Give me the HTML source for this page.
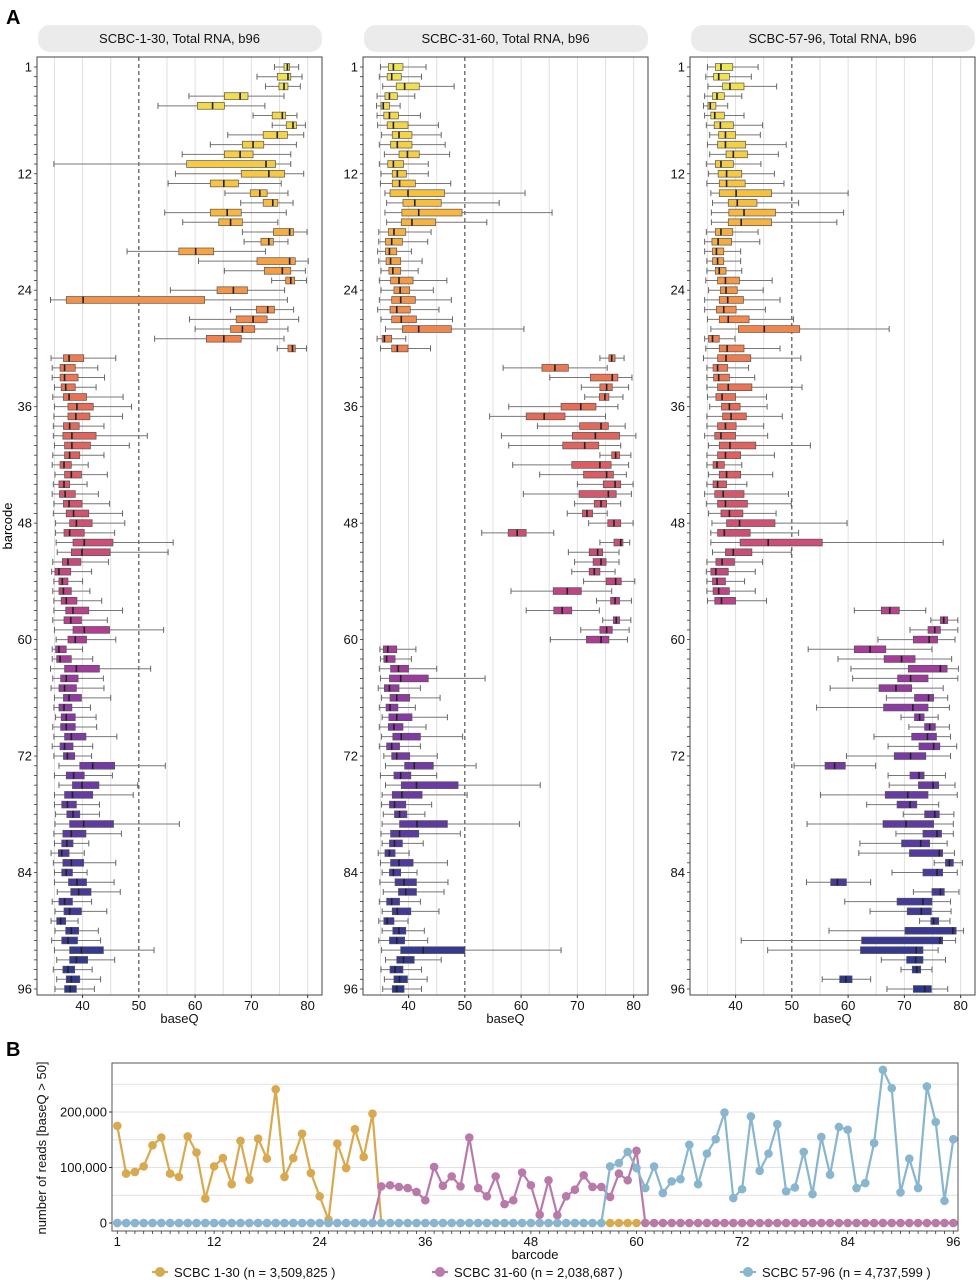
<!DOCTYPE html>
<html><head><meta charset="utf-8"><style>
html,body{margin:0;padding:0;background:#fff;}
svg{display:block;font-family:"Liberation Sans",Arial,sans-serif;}
</style></head><body>
<svg id="chart" width="976" height="1280" viewBox="0 0 976 1280" xmlns="http://www.w3.org/2000/svg">
<text x="6" y="24" font-size="20" font-weight="bold">A</text>
<text x="6" y="1056" font-size="20" font-weight="bold">B</text>
<text transform="translate(12,526) rotate(-90)" text-anchor="middle" font-size="13">barcode</text>
<g id="facets"></g>
<g id="linechart"></g>
</svg>
<script>
// ---------- Panel A data ----------
const facetTitles = ["SCBC-1-30, Total RNA, b96","SCBC-31-60, Total RNA, b96","SCBC-57-96, Total RNA, b96"];
const yTickLabels = [1,12,24,36,48,60,72,84,96];
const xTickLabels = [40,50,60,70,80];
const p1Lo=[74.1,71.0,72.5,58.9,53.4,70.3,73.7,65.8,62.7,57.7,34.9,56.5,55.2,65.3,68.1,54.6,57.8,68.4,68.7,47.9,60.6,65.2,73.6,55.6,34.3,66.3,59.0,60.0,52.8,74.6,34.4,34.6,34.6,35.0,34.7,35.0,34.9,34.8,34.8,35.0,34.7,34.6,35.1,34.8,34.6,34.9,34.8,35.2,35.2,35.3,35.5,34.7,34.5,34.9,34.7,34.9,34.9,34.7,35.0,35.3,34.6,34.6,34.3,34.7,34.4,35.0,34.9,35.2,34.7,34.9,34.6,34.9,35.8,35.0,35.8,35.0,35.0,35.2,35.1,34.9,35.0,34.4,34.8,35.0,35.0,35.5,34.6,35.1,34.4,35.1,34.5,35.0,35.4,34.8,35.4,35.1];
const p1Q1=[75.8,74.6,74.9,65.2,60.4,73.7,76.2,72.1,68.4,65.2,58.5,68.2,62.7,69.8,72.1,62.7,64.2,73.9,71.7,57.1,71.0,72.3,76.1,63.9,37.1,70.9,67.3,66.3,62.0,76.5,36.6,36.0,36.0,36.2,36.6,37.4,37.4,36.6,36.5,36.8,36.8,36.0,36.8,35.8,35.9,36.6,37.1,37.7,36.7,38.3,38.0,36.4,35.1,35.8,35.8,36.2,37.0,36.7,38.3,37.4,35.2,35.4,36.8,36.1,35.8,36.6,35.8,36.2,36.1,36.8,36.0,36.6,39.5,37.1,38.2,36.8,36.3,37.2,37.7,36.5,36.3,35.7,36.5,36.3,37.5,37.9,35.8,36.7,35.4,37.0,36.3,37.7,37.7,36.5,37.1,36.8];
const p1Med=[76.4,76.5,75.8,68.0,63.1,75.5,77.4,74.6,70.3,68.0,72.6,73.1,65.1,71.5,73.8,65.7,66.3,76.8,73.1,60.1,76.8,75.5,77.0,66.8,40.1,72.9,70.3,68.4,65.1,77.3,37.6,36.8,36.8,37.0,37.6,39.0,38.8,37.7,38.1,38.1,37.7,36.7,38.0,36.7,36.9,37.6,38.4,38.9,37.7,40.3,39.9,37.4,35.8,36.4,36.6,37.1,38.3,37.9,40.3,38.7,35.8,36.0,38.9,37.1,36.8,37.6,36.7,37.1,37.1,38.0,36.8,37.3,41.8,38.4,39.9,38.2,37.3,38.3,40.2,38.0,37.2,36.3,38.0,37.1,39.0,39.3,36.8,37.7,36.1,38.0,37.4,39.8,38.9,37.4,38.0,37.8];
const p1Q3=[76.8,77.0,76.5,69.4,65.2,76.1,78.0,76.4,72.2,70.3,74.3,75.9,67.7,72.8,74.7,68.2,68.4,77.5,73.9,63.3,77.8,77.0,77.7,69.3,61.7,74.1,72.8,70.6,68.2,77.8,40.2,38.7,39.2,38.7,40.7,41.9,41.3,39.4,42.4,41.4,39.5,38.0,39.8,37.7,38.7,39.9,41.1,41.7,40.3,45.4,44.9,39.7,37.9,37.4,38.0,39.0,41.1,39.8,44.8,40.7,37.1,38.0,43.0,39.2,38.9,39.8,38.1,38.7,38.7,40.6,38.3,38.6,45.7,40.3,42.9,41.8,38.9,39.5,45.5,40.6,38.3,37.6,40.2,38.2,40.7,41.5,38.2,39.8,37.0,39.3,39.1,43.7,40.9,38.6,39.5,38.9];
const p1Hi=[78.4,79.0,78.7,75.8,72.4,78.1,79.6,79.3,78.0,77.0,77.0,79.3,75.3,76.5,77.4,76.2,74.7,79.9,76.5,72.5,80.1,79.6,79.8,75.9,76.4,77.5,78.4,76.5,75.8,79.8,45.9,42.7,43.9,42.4,47.2,48.7,47.1,43.8,51.5,48.3,43.8,41.0,44.4,40.8,42.8,44.8,47.1,47.5,45.7,56.1,55.2,44.6,41.6,40.0,41.3,43.4,47.1,44.4,54.4,45.9,40.0,41.8,52.1,43.7,43.8,45.0,41.4,42.4,42.5,46.1,41.8,41.6,54.7,45.3,49.8,49.0,43.0,43.0,57.2,46.9,41.1,40.3,45.9,40.8,45.6,46.7,41.6,44.3,39.2,42.8,43.2,52.7,45.7,41.7,43.2,42.1];

const p2Lo=[35.0,34.8,35.4,34.4,34.3,34.4,34.5,35.2,34.8,35.7,34.8,35.1,35.0,35.8,36.1,35.8,36.1,34.7,34.7,34.5,34.7,35.1,34.8,35.1,34.8,34.5,35.1,35.9,34.4,35.0,74.0,56.8,65.1,70.7,71.3,57.8,54.4,62.9,56.5,57.8,74.0,58.5,63.3,70.0,60.4,69.5,68.2,72.0,53.0,74.0,68.4,69.5,69.0,71.1,58.2,73.4,60.9,74.5,70.6,65.2,34.9,35.0,34.8,35.0,34.6,35.2,34.8,35.3,34.8,35.2,34.8,35.6,35.9,35.0,35.9,35.3,35.2,35.5,35.3,35.1,35.3,34.6,35.0,35.3,34.9,35.5,34.8,35.3,34.7,35.3,34.7,35.2,35.9,35.1,35.7,35.4];
const p2Q1=[36.4,36.2,37.8,35.8,35.1,35.6,36.2,37.1,36.8,38.3,36.3,37.1,37.1,36.7,39.0,38.8,38.7,36.4,35.9,35.9,36.0,36.5,36.8,37.4,37.0,36.7,37.0,38.9,35.3,37.0,75.6,63.7,72.3,74.0,73.9,67.1,60.9,70.4,69.1,67.4,76.1,69.0,71.1,74.6,70.3,73.0,70.9,75.4,57.7,76.5,72.1,72.8,72.1,75.1,65.7,75.9,65.8,76.4,74.0,71.6,35.5,35.6,36.8,36.6,35.7,36.7,36.0,36.5,36.4,37.2,36.1,37.0,39.3,37.4,38.7,37.1,36.6,37.5,38.4,36.8,36.6,35.8,36.8,36.6,37.6,38.2,36.1,37.1,35.6,37.2,36.6,38.6,37.9,36.7,37.4,37.1];
const p2Med=[37.3,37.0,39.3,36.6,35.5,36.6,37.3,38.3,38.0,39.8,37.3,38.0,38.4,39.9,41.1,41.8,40.6,37.4,37.0,36.6,36.8,37.2,38.3,38.5,38.6,37.9,38.7,41.8,35.7,38.0,76.1,66.0,76.2,75.2,74.9,70.6,64.1,74.2,73.2,71.3,76.8,74.0,75.2,76.7,75.5,74.2,71.7,76.5,59.3,77.7,73.6,74.2,73.0,76.8,68.2,76.7,67.3,76.9,75.2,74.2,36.3,36.1,38.2,38.6,36.6,37.9,36.7,37.9,37.4,38.7,37.0,37.9,41.0,38.6,41.4,38.8,37.5,38.4,41.5,38.4,37.5,36.6,38.3,37.3,39.2,39.5,37.0,38.0,36.2,38.3,37.9,42.6,39.1,37.6,38.4,37.9];
const p2Q3=[39.0,38.7,41.9,38.0,36.6,38.2,39.9,40.6,40.6,41.9,39.1,39.6,41.2,46.4,45.8,49.5,44.8,39.5,38.9,37.9,38.6,38.6,40.8,40.2,41.2,40.3,41.4,47.6,37.0,39.9,76.7,68.4,77.2,76.2,75.6,73.3,67.8,75.5,77.5,73.8,77.5,76.0,76.4,77.7,76.9,75.2,72.7,77.7,60.9,78.1,74.5,75.1,74.0,77.8,70.7,77.5,69.0,77.5,76.2,75.6,37.9,37.6,40.0,43.5,38.3,40.2,38.1,40.6,39.0,42.1,38.4,40.2,44.4,40.4,48.8,42.4,39.5,39.7,46.9,41.8,38.9,37.6,40.8,38.6,41.4,41.4,38.4,40.4,37.4,39.5,39.3,50.0,41.0,39.0,39.8,39.2];
const p2Hi=[43.1,42.3,48.1,41.1,38.5,42.1,45.3,45.8,46.5,47.3,43.5,43.5,47.5,60.7,56.1,65.5,53.9,44.0,43.4,40.5,42.4,41.7,46.8,44.4,47.6,45.4,47.8,60.5,39.5,43.9,78.3,75.3,79.7,79.1,78.1,77.2,75.0,78.5,80.4,77.7,79.5,79.1,78.7,79.9,79.6,77.7,75.3,79.9,65.8,79.3,77.4,77.4,76.7,80.2,76.1,79.6,73.9,79.5,79.2,78.9,41.3,40.5,45.0,53.6,42.1,45.6,41.2,46.9,43.1,49.6,42.1,45.1,52.0,45.0,63.4,50.4,44.1,42.9,59.7,49.2,42.6,40.1,46.9,41.5,47.0,46.3,42.1,45.4,39.9,42.8,43.4,67.1,45.8,42.3,43.3,42.3];

const p3Lo=[35.0,34.7,35.1,34.5,34.3,34.5,34.8,35.4,35.0,35.4,34.8,35.2,34.9,35.6,35.9,35.7,35.7,34.8,34.5,34.5,34.9,34.9,34.7,35.2,34.5,34.5,35.0,35.6,34.5,34.7,34.3,34.9,34.9,34.9,35.0,35.4,34.9,34.9,34.5,35.2,34.9,34.9,35.2,34.9,34.5,34.8,35.2,35.8,35.6,35.6,35.9,34.9,34.8,34.9,34.9,35.0,61.1,74.7,71.0,65.3,52.9,58.2,60.5,60.8,56.8,66.8,54.4,69.4,70.8,64.6,67.1,59.7,50.4,67.1,67.3,55.1,63.3,69.8,52.7,68.5,62.1,61.9,75.3,67.8,52.6,71.6,59.4,63.9,72.7,56.6,41.0,45.7,65.9,69.4,55.4,66.9];
const p3Q1=[36.4,36.1,37.7,35.9,35.1,35.6,36.2,37.0,36.8,38.3,36.4,36.9,37.1,37.1,38.7,38.8,38.7,36.4,35.8,35.9,35.9,36.4,36.8,37.3,37.1,36.6,37.1,40.5,35.2,37.1,36.8,36.0,36.1,36.8,36.5,37.5,37.7,36.8,36.3,37.1,36.8,36.0,37.1,36.0,36.3,36.8,37.4,38.4,36.8,40.8,38.2,36.5,35.6,35.9,36.0,36.3,65.9,76.4,74.2,71.6,61.1,66.4,70.7,68.8,65.5,71.8,66.3,71.8,73.6,71.3,72.6,68.2,55.9,71.0,72.5,66.6,68.7,73.6,66.2,73.3,69.5,70.9,77.3,73.3,56.9,74.9,68.7,70.5,74.7,70.1,62.4,62.2,70.4,71.4,58.5,71.6];
const p3Med=[37.4,37.0,39.0,36.7,35.5,36.3,37.3,38.2,38.2,39.6,37.4,38.4,38.4,40.1,40.3,41.5,41.0,37.4,36.9,36.6,36.8,37.1,38.2,38.3,38.6,37.9,38.7,45.1,35.9,38.5,38.3,36.8,37.0,38.7,37.6,38.9,39.2,38.2,37.4,39.0,38.2,36.7,38.4,36.8,37.8,38.2,38.9,40.7,38.0,45.8,39.6,37.6,36.5,36.7,37.0,37.5,67.4,77.0,75.4,74.4,63.9,69.5,76.4,71.1,68.5,74.3,71.5,72.7,74.5,74.1,75.2,71.1,57.6,72.6,75.1,70.6,71.0,75.4,70.3,75.8,72.9,76.2,78.0,75.8,58.1,76.4,73.3,73.0,75.2,78.6,76.3,72.1,72.0,72.2,59.6,73.6];
const p3Q3=[39.5,38.9,41.5,38.0,36.5,38.0,39.6,40.0,41.8,42.1,39.6,41.1,41.7,46.4,43.8,47.1,46.4,39.5,39.3,37.9,37.9,38.3,40.7,40.3,41.4,40.1,42.4,51.4,37.1,41.5,42.7,38.6,38.9,42.9,40.0,40.8,41.9,40.1,40.0,43.6,40.9,38.0,40.9,38.4,41.5,42.1,41.3,47.0,42.6,55.4,42.9,39.8,38.7,38.2,38.9,40.0,69.1,77.7,76.4,75.9,66.7,71.9,77.6,74.2,71.3,75.2,74.2,73.5,75.5,75.7,76.3,73.8,59.5,73.5,76.1,74.2,72.2,76.2,75.2,76.6,74.5,76.8,78.7,76.8,59.7,77.1,74.9,74.8,76.1,79.2,76.8,73.3,73.3,72.9,60.7,74.8];
const p3Hi=[44.0,42.8,47.3,41.1,38.6,41.5,44.8,44.4,49.0,47.6,44.5,46.9,48.6,60.0,51.2,59.2,58.0,44.0,44.3,40.9,40.9,41.1,46.5,44.9,47.9,45.3,50.3,67.3,39.9,47.9,51.6,42.3,43.4,51.8,45.5,45.6,48.3,45.0,45.7,53.3,46.9,41.1,46.6,42.0,49.4,49.9,47.2,59.8,51.2,76.9,49.9,44.8,43.5,41.6,43.5,45.5,73.8,79.5,79.5,79.0,74.9,78.4,79.6,79.5,76.9,77.7,78.0,76.0,78.0,78.2,79.3,78.2,64.9,77.3,79.0,79.4,76.1,78.8,78.7,78.7,77.6,78.9,80.3,79.4,64.0,79.7,78.2,78.3,78.1,80.5,79.1,76.0,77.3,74.9,64.0,77.7];

// ---------- Panel B data (thousands of reads) ----------
const seriesNames = ["SCBC 1-30 (n = 3,509,825 )","SCBC 31-60 (n = 2,038,687 )","SCBC 57-96 (n = 4,737,599 )"];
const readsA = [175,89,92,102,140,154,89,83,156,127,44,102,117,70,148,78,152,116,241,83,117,161,90,48,6,143,99,169,119,197];
const readsB = [66,68,65,63,56,41,101,67,84,66,154,63,48,84,34,41,91,68,15,77,14,48,60,86,65,65,47,89,77,130];
const readsC = [102,108,128,99,63,102,54,75,79,141,70,125,151,199,45,61,192,94,125,178,57,64,128,52,155,87,173,168,63,72,144,276,243,55,116,63,246,182,40,151];
const yTicksB = [0,100000,200000];
const xTicksB = [1,12,24,36,48,60,72,84,96];

const NS="http://www.w3.org/2000/svg";
function mk(tag, attrs, parent){const e=document.createElementNS(NS,tag);for(const k in attrs)e.setAttribute(k,attrs[k]);parent.appendChild(e);return e;}

// colour ramp (style, not data)
const ramp=[[0,[239,228,82]],[0.12,[247,200,64]],[0.2,[246,165,66]],[0.3,[240,128,78]],[0.42,[222,96,96]],[0.53,[200,76,122]],[0.61,[178,62,146]],[0.69,[142,58,164]],[0.79,[104,58,164]],[0.89,[72,58,156]],[1,[42,56,140]]];
function colorAt(t){for(let i=1;i<ramp.length;i++){if(t<=ramp[i][0]){const a=ramp[i-1],b=ramp[i];const f=(t-a[0])/(b[0]-a[0]);const c=a[1].map((v,j)=>Math.round(v+(b[1][j]-v)*f));return `rgb(${c[0]},${c[1]},${c[2]})`;}}return 'rgb(42,56,140)';}

const panels=[
 {x0:37,x1:322,lo:p1Lo,q1:p1Q1,med:p1Med,q3:p1Q3,hi:p1Hi},
 {x0:363,x1:648,lo:p2Lo,q1:p2Q1,med:p2Med,q3:p2Q3,hi:p2Hi},
 {x0:690,x1:975,lo:p3Lo,q1:p3Q1,med:p3Med,q3:p3Q3,hi:p3Hi}];
const yTop=57,yBot=995,dMin=31.9,dMax=82.55;
const rowY=i=>67+(i-1)*9.705;
const facets=document.getElementById('facets');
panels.forEach((p,pi)=>{
  const sx=v=>p.x0+(v-dMin)/(dMax-dMin)*(p.x1-p.x0);
  const g=mk('g',{},facets);
  
  
  const strip=mk('rect',{x:p.x0+1,y:25,width:p.x1-p.x0-1,height:27,rx:12,fill:'#ebebeb'},g);
  
  
  const st=mk('text',{x:(p.x0+p.x1)/2,y:43,'text-anchor':'middle','font-size':13,fill:'#111'},g);
  st.textContent=facetTitles[pi];
  
  
  for(let v=35;v<=80;v+=5){ if(v===50)continue;
    const gl=mk('line',{x1:sx(v),x2:sx(v),y1:yTop,y2:yBot,stroke:'#e0e0e0','stroke-width':1},g);
    
    
  }
  const dl=mk('line',{x1:sx(50),x2:sx(50),y1:yTop,y2:yBot,stroke:'#333','stroke-width':1,'stroke-dasharray':'4,3'},g);
  
  
  for(let i=1;i<=96;i++){
    const y=rowY(i),c=colorAt((i-1)/95),k=i-1;
    const bx=mk('g',{},g);
    
    
    mk('line',{x1:sx(p.lo[k]),x2:sx(p.hi[k]),y1:y,y2:y,stroke:'#777','stroke-width':1},bx);
    mk('line',{x1:sx(p.lo[k]),x2:sx(p.lo[k]),y1:y-3,y2:y+3,stroke:'#666','stroke-width':1},bx);
    mk('line',{x1:sx(p.hi[k]),x2:sx(p.hi[k]),y1:y-3,y2:y+3,stroke:'#666','stroke-width':1},bx);
    mk('rect',{x:sx(p.q1[k]),y:y-3.4,width:Math.max(1,sx(p.q3[k])-sx(p.q1[k])),height:6.8,fill:c,stroke:'#555','stroke-width':0.7},bx);
    mk('line',{x1:sx(p.med[k]),x2:sx(p.med[k]),y1:y-3.4,y2:y+3.4,stroke:'#222','stroke-width':1.6},bx);
    mk('line',{x1:p.x0-3,x2:p.x0,y1:y,y2:y,stroke:'#333','stroke-width':0.8},g);
  }
  const border=mk('rect',{x:p.x0,y:yTop,width:p.x1-p.x0,height:yBot-yTop,fill:'none',stroke:'#444','stroke-width':1},g);
  
  
  yTickLabels.forEach(v=>{
    const t=mk('text',{x:p.x0-5,y:rowY(v)+4.5,'text-anchor':'end','font-size':13,fill:'#111'},g);
    t.textContent=v;
    
    
  });
  xTickLabels.forEach(v=>{
    mk('line',{x1:sx(v),x2:sx(v),y1:yBot,y2:yBot+3,stroke:'#333'},g);
    const t=mk('text',{x:sx(v),y:yBot+15,'text-anchor':'middle','font-size':13,fill:'#111'},g);
    t.textContent=v;
    
    
  });
  const xt=mk('text',{x:(p.x0+p.x1)/2,y:yBot+28,'text-anchor':'middle','font-size':13,fill:'#111'},g);
  xt.textContent='baseQ';
  
  
});

// ---------- Panel B ----------
const lc=document.getElementById('linechart');
const bx0=112,bx1=958,by0=1063,by1=1231;
const bxs=i=>117.3+(i-1)*8.8;
const bys=v=>1223-v*0.000555;
for(let v=50000;v<=250000;v+=50000){
  const gl=mk('line',{x1:bx0,x2:bx1,y1:bys(v),y2:bys(v),stroke:'#e2e2e2','stroke-width':1},lc);
  
  
}
const cols=['#d8a94e','#b97aaa','#88b6cf'];
function fullSeries(arr,start){const s=[];for(let i=1;i<=96;i++){const k=i-start;s.push(k>=0&&k<arr.length?arr[k]*1000:0);}return s;}
const allSeries=[fullSeries(readsA,1),fullSeries(readsB,31),fullSeries(readsC,57)];
allSeries.forEach((s,si)=>{
  const g=mk('g',{},lc);
  
  
  const pts=s.map((v,i)=>bxs(i+1).toFixed(1)+','+bys(v).toFixed(1)).join(' ');
  mk('polyline',{points:pts,fill:'none',stroke:cols[si],'stroke-width':2.2},g);
  s.forEach((v,i)=>{
    const c=mk('circle',{cx:bxs(i+1),cy:bys(v),r:4.3,fill:cols[si]},g);
    
    
  });
});
const bb=mk('rect',{x:bx0,y:by0,width:bx1-bx0,height:by1-by0,fill:'none',stroke:'#555','stroke-width':1},lc);


for(let i=1;i<=96;i++) mk('line',{x1:bxs(i),x2:bxs(i),y1:by1,y2:by1+3,stroke:'#333','stroke-width':0.8},lc);
yTicksB.forEach(v=>{
  mk('line',{x1:bx0-3,x2:bx0,y1:bys(v),y2:bys(v),stroke:'#333'},lc);
  const t=mk('text',{x:bx0-5,y:bys(v)+4.5,'text-anchor':'end','font-size':13,fill:'#111'},lc);
  t.textContent=v.toLocaleString('en-US');
  
  
});
xTicksB.forEach(v=>{
  const t=mk('text',{x:bxs(v),y:1246,'text-anchor':'middle','font-size':13,fill:'#111'},lc);
  t.textContent=v;
  
  
});
const bxt=mk('text',{x:535,y:1259,'text-anchor':'middle','font-size':13,fill:'#111'},lc);
bxt.textContent='barcode';


const byt=mk('text',{transform:'translate(46,1148) rotate(-90)','text-anchor':'middle','font-size':13,fill:'#111'},lc);
byt.textContent='number of reads [baseQ > 50]';


const legX=[152,432,740];
seriesNames.forEach((n,si)=>{
  const g=mk('g',{},lc);
  
  
  mk('line',{x1:legX[si],x2:legX[si]+16,y1:1272,y2:1272,stroke:cols[si],'stroke-width':2.2},g);
  mk('circle',{cx:legX[si]+8,cy:1272,r:5,fill:cols[si]},g);
  const t=mk('text',{x:legX[si]+22,y:1277,'font-size':13,fill:'#111'},g);
  t.textContent=n;
});
</script>
</body></html>
